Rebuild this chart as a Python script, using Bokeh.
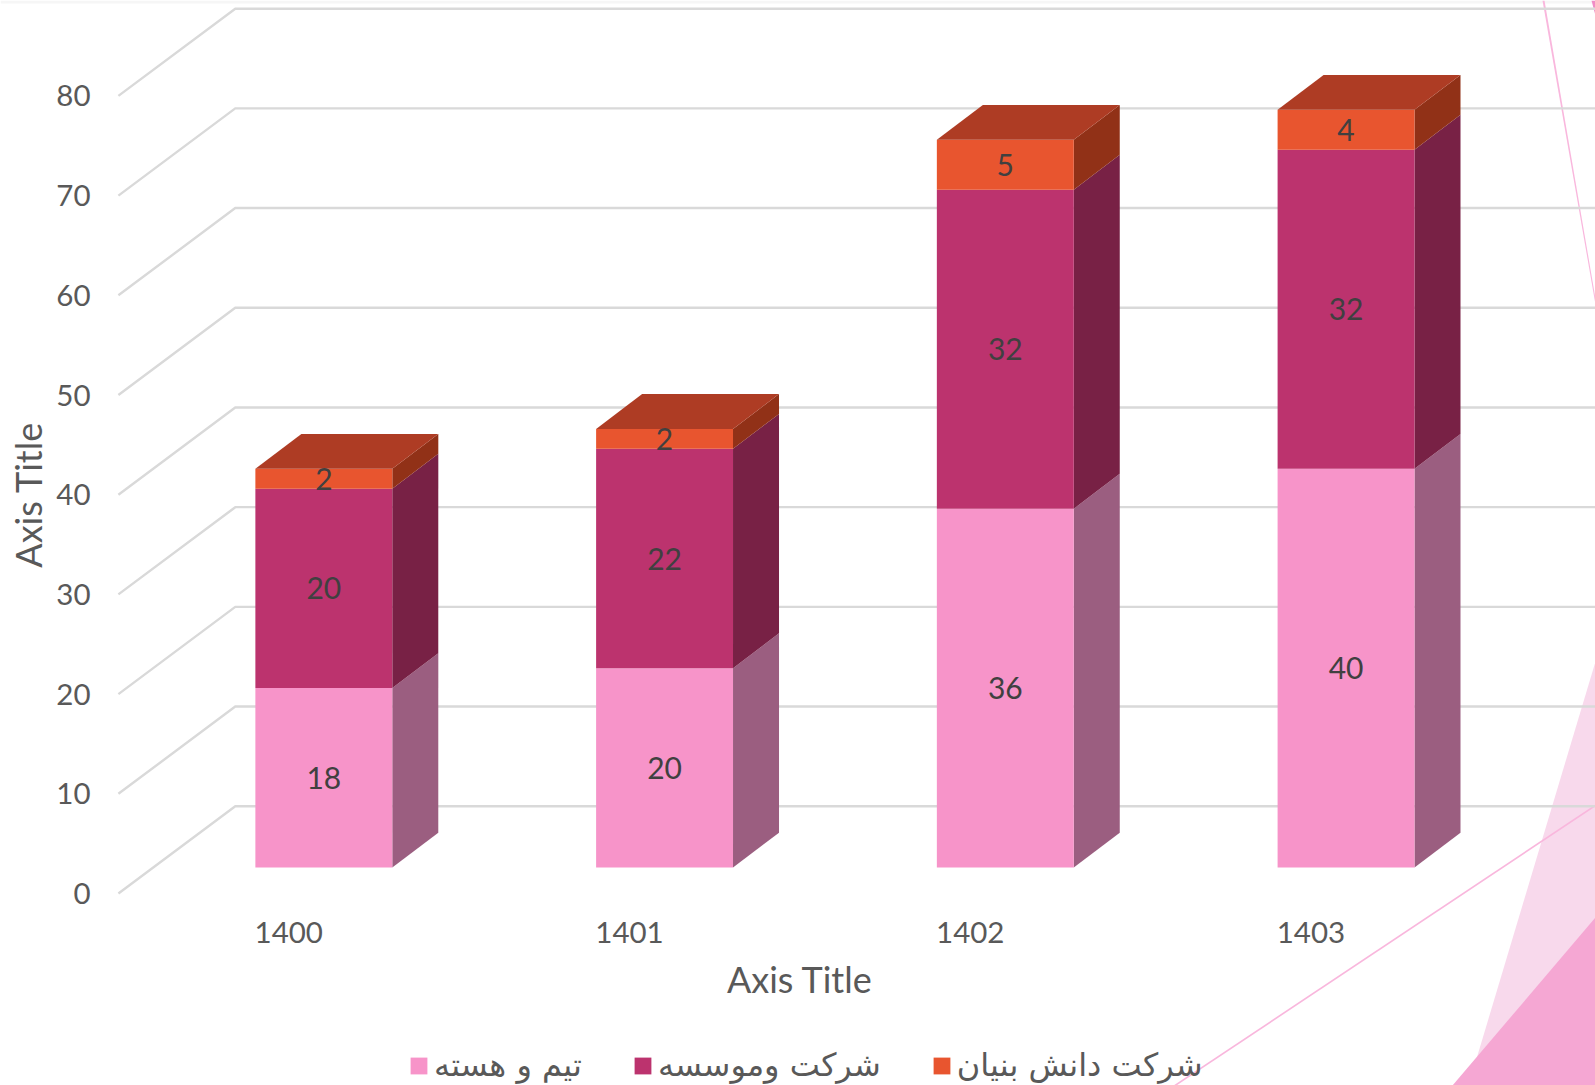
from math import pi
from bokeh.plotting import figure
from bokeh.models import (ColumnDataSource, FixedTicker, Label, Legend, LegendItem, PolyAnnotation, Range1d)
from bokeh.core.properties import value
from bokeh.embed import file_html
from bokeh.resources import INLINE

years = ["1400", "1401", "1402", "1403"]
team = [18, 20, 36, 40]
company = [20, 22, 32, 32]
knowledge = [2, 2, 5, 4]
series_names = ["تیم و هسته", "شرکت وموسسه", "شرکت دانش بنیان"]
y_ticks = [0, 10, 20, 30, 40, 50, 60, 70, 80]

FONT = "Lato"
FRONT = ["#F794C9", "#BC336E", "#E8552F"]
SIDE = ["#9B5E80", "#782145", "#913117"]
TOP = "#AE3C24"

# plot geometry, expressed in axis units
WALL_DX, WALL_DY = 0.343, 8.75
BAR_OFF, BAR_W = 0.402, 0.4018
BAR_DX, BAR_DY = 0.135, 3.5
BASE = 2.6

p = figure(width=1595, height=1085, frame_width=1595, frame_height=1085,
           x_range=Range1d(-0.346, 4.335), y_range=Range1d(-19.258, 89.57),
           min_border_left=0, min_border_right=0, min_border_top=0, min_border_bottom=0,
           output_backend="svg", toolbar_location=None, outline_line_color=None,
           border_fill_color="white", background_fill_color=None)
p.grid.visible = False


def deco(xs, ys, color):
    p.add_layout(PolyAnnotation(xs=xs, ys=ys,
                                xs_units="canvas", ys_units="canvas", level="underlay",
                                fill_color=color, fill_alpha=1, line_color=None))


deco([0, 1595, 1595, 0], [0, 0, 3, 3], "#F6F6F6")
deco([1595, 1468, 1595], [661, 1085, 1085], "#F8D9EC")
deco([1452, 1595, 1595], [1085, 917, 1085], "#F5A7D3")
deco([1173, 1595, 1595, 1176], [1085, 804, 806, 1085], "#F9B7DD")
deco([1542, 1544, 1595, 1595], [0, 0, 298, 304], "#F9B7DD")
deco([1591, 1595, 1595], [0, 0, 15], "#F08CC6")

# wall gridlines
p.multi_line([[0, WALL_DX, 4.335] for _ in y_ticks],
             [[v, v + WALL_DY, v + WALL_DY] for v in y_ticks],
             line_color="#D9D9D9", line_width=2.4)

series = [team, company, knowledge]
legend_renderers = []
for s, vals in enumerate(series):
    x0s, x1s, y0s, y1s, side_x, side_y = [], [], [], [], [], []
    for i in range(len(years)):
        bottom = sum(series[k][i] for k in range(s))
        x0 = i + BAR_OFF
        x1 = x0 + BAR_W
        y0 = bottom + BASE
        y1 = y0 + vals[i]
        x0s.append(x0); x1s.append(x1); y0s.append(y0); y1s.append(y1)
        side_x.append([x1, x1 + BAR_DX, x1 + BAR_DX, x1])
        side_y.append([y0, y0 + BAR_DY, y1 + BAR_DY, y1])
    p.patches(side_x, side_y, fill_color=SIDE[s], line_color=None)
    r = p.quad(left=x0s, right=x1s, bottom=y0s, top=y1s, fill_color=FRONT[s], line_color=None)
    legend_renderers.append(r)

totals = [a + b + c for a, b, c in zip(team, company, knowledge)]
top_x, top_y = [], []
for i, t in enumerate(totals):
    x0 = i + BAR_OFF
    x1 = x0 + BAR_W
    y = t + BASE
    top_x.append([x0, x1, x1 + BAR_DX, x0 + BAR_DX])
    top_y.append([y, y, y + BAR_DY, y + BAR_DY])
p.patches(top_x, top_y, fill_color=TOP, line_color=None)

# data labels drawn after all faces
for s, vals in enumerate(series):
    xs, ys, ts = [], [], []
    for i in range(len(years)):
        bottom = sum(series[k][i] for k in range(s))
        xs.append(i + BAR_OFF + BAR_W / 2)
        ys.append(bottom + BASE + vals[i] / 2)
        ts.append(str(vals[i]))
    src = ColumnDataSource(dict(x=xs, y=ys, t=ts))
    p.text("x", "y", "t", source=src, text_font=value(FONT), text_font_size="30px",
           text_color="#404040", text_align="center", text_baseline="middle")

for ax in (p.xaxis[0], p.yaxis[0]):
    ax.axis_line_color = None
    ax.major_tick_line_color = None
    ax.minor_tick_line_color = None
    ax.major_tick_in = 0
    ax.major_tick_out = 0
    ax.minor_tick_in = 0
    ax.minor_tick_out = 0
    ax.major_label_text_font = FONT
    ax.major_label_text_font_size = "29.5px"
    ax.major_label_text_color = "#595959"

p.yaxis[0].ticker = FixedTicker(ticks=y_ticks)
p.yaxis[0].major_label_standoff = -90

p.xaxis[0].ticker = FixedTicker(ticks=[i + 0.5 for i in range(len(years))])
p.xaxis[0].major_label_overrides = {i + 0.5: y for i, y in enumerate(years)}
p.xaxis[0].major_label_standoff = -164

# axis titles, placed along the 0-80 / 0-4 spans of the axes
p.add_layout(Label(x=2.0, y=-8.53, text="Axis Title", text_font=FONT, text_font_size="36px",
                   text_color="#595959", text_align="center", text_baseline="middle"))
p.add_layout(Label(x=-0.266, y=40, text="Axis Title", angle=pi / 2, text_font=FONT, text_font_size="36px",
                   text_color="#595959", text_align="center", text_baseline="middle"))

legend = Legend(items=[LegendItem(label=n, renderers=[r]) for n, r in zip(series_names, legend_renderers)],
                location=(408, 1), orientation="horizontal",
                glyph_width=21, glyph_height=21, label_standoff=5, spacing=50,
                padding=0, margin=0, border_line_color=None, background_fill_color=None,
                label_text_font="DejaVu Sans", label_text_font_size="32px",
                label_text_color="#595959")
p.add_layout(legend)

open("out.html", "w").write(file_html(p, INLINE))
